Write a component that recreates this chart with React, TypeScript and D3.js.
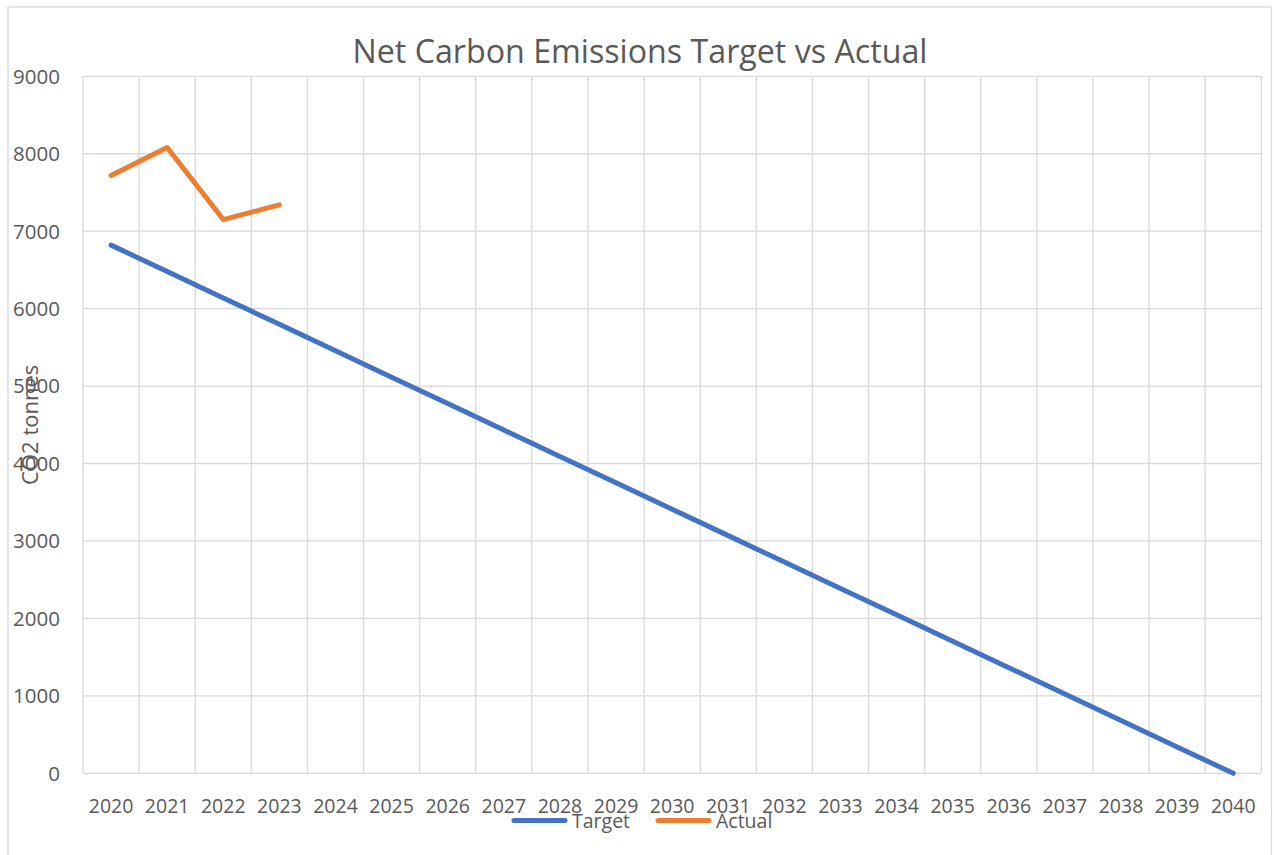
import React, { useEffect, useRef } from 'react';
import * as d3 from 'd3';

const years = [
  '2020', '2021', '2022', '2023', '2024', '2025', '2026', '2027', '2028', '2029', '2030',
  '2031', '2032', '2033', '2034', '2035', '2036', '2037', '2038', '2039', '2040',
];
const target = [
  6820, 6479, 6138, 5797, 5456, 5115, 4774, 4433, 4092, 3751, 3410,
  3069, 2728, 2387, 2046, 1705, 1364, 1023, 682, 341, 0,
];
const actual = [7720, 8080, 7150, 7340];
const yTicks = [0, 1000, 2000, 3000, 4000, 5000, 6000, 7000, 8000, 9000];

const WIDTH = 1274;
const HEIGHT = 855;
const FONT = '"Open Sans", "Noto Sans", sans-serif';
const TEXT = '#595959';
const GRID = '#d9d9d9';
const BLUE = '#4472c4';
const ORANGE = '#ed7d31';

function LineChart() {
  const ref = useRef<SVGSVGElement>(null);

  useEffect(() => {
    if (!ref.current) return;
    const marginLeft = 83;
    const marginRight = 12.7;
    const marginTop = 76.3;
    const marginBottom = 81.7;

    const svg = d3.select(ref.current);
    svg.selectAll('*').remove();

    // chart frame
    svg
      .append('rect')
      .attr('x', 8)
      .attr('y', 7)
      .attr('width', 1263.5)
      .attr('height', 860)
      .attr('fill', '#fff')
      .attr('stroke', GRID)
      .attr('stroke-width', 1.3);

    const x = d3
      .scaleBand()
      .domain(years)
      .range([marginLeft, WIDTH - marginRight])
      .padding(0);

    const y = d3
      .scaleLinear()
      .domain([0, 9000])
      .range([HEIGHT - marginBottom, marginTop]);

    const cx = (d: string) => (x(d) as number) + x.bandwidth() / 2;

    // horizontal gridlines
    svg
      .append('g')
      .selectAll('line')
      .data(yTicks)
      .join('line')
      .attr('x1', marginLeft)
      .attr('x2', WIDTH - marginRight)
      .attr('y1', (d) => y(d))
      .attr('y2', (d) => y(d))
      .attr('stroke', GRID)
      .attr('stroke-width', 1.3);

    // vertical gridlines at category boundaries
    const bounds = years.map((d) => x(d) as number).concat([WIDTH - marginRight]);
    svg
      .append('g')
      .selectAll('line')
      .data(bounds)
      .join('line')
      .attr('x1', (d) => d)
      .attr('x2', (d) => d)
      .attr('y1', y(0))
      .attr('y2', y(9000))
      .attr('stroke', GRID)
      .attr('stroke-width', 1.3);

    // y labels
    svg
      .append('g')
      .selectAll('text')
      .data(yTicks)
      .join('text')
      .attr('x', 60)
      .attr('y', (d) => y(d))
      .attr('dy', '0.36em')
      .attr('text-anchor', 'end')
      .attr('font-family', FONT)
      .attr('font-size', 20.5)
      .attr('fill', TEXT)
      .text((d) => d);

    // x labels
    svg
      .append('g')
      .selectAll('text')
      .data(years)
      .join('text')
      .attr('x', (d) => cx(d))
      .attr('y', 813)
      .attr('text-anchor', 'middle')
      .attr('font-family', FONT)
      .attr('font-size', 19.5)
      .attr('fill', TEXT)
      .text((d) => d);

    const line = d3
      .line<number>()
      .x((d, i) => cx(years[i]))
      .y((d) => y(d));

    svg
      .append('path')
      .datum(target)
      .attr('d', line)
      .attr('fill', 'none')
      .attr('stroke', BLUE)
      .attr('stroke-width', 5)
      .attr('stroke-linecap', 'round')
      .attr('stroke-linejoin', 'round');

    svg
      .append('path')
      .datum(actual)
      .attr('d', line)
      .attr('fill', 'none')
      .attr('stroke', ORANGE)
      .attr('stroke-width', 5)
      .attr('stroke-linecap', 'round')
      .attr('stroke-linejoin', 'round');

    // title
    svg
      .append('text')
      .attr('x', 640)
      .attr('y', 63)
      .attr('text-anchor', 'middle')
      .attr('font-family', FONT)
      .attr('font-size', 32.2)
      .attr('fill', TEXT)
      .text('Net Carbon Emissions Target vs Actual');

    // y axis title
    svg
      .append('text')
      .attr('transform', `translate(38,${(y(0) + y(9000)) / 2}) rotate(-90)`)
      .attr('text-anchor', 'middle')
      .attr('font-family', FONT)
      .attr('font-size', 22)
      .attr('fill', TEXT)
      .text('CO2 tonnes');

    // legend
    const legend = [
      { name: 'Target', color: BLUE, x: 514 },
      { name: 'Actual', color: ORANGE, x: 658 },
    ];
    const lg = svg.append('g').selectAll('g').data(legend).join('g');
    lg.append('line')
      .attr('x1', (d) => d.x)
      .attr('x2', (d) => d.x + 51)
      .attr('y1', 820.5)
      .attr('y2', 820.5)
      .attr('stroke', (d) => d.color)
      .attr('stroke-width', 5)
      .attr('stroke-linecap', 'round');
    lg.append('text')
      .attr('x', (d) => d.x + 58)
      .attr('y', 828)
      .attr('font-family', FONT)
      .attr('font-size', 19.5)
      .attr('fill', TEXT)
      .text((d) => d.name);
  }, []);

  return (
    <svg
      ref={ref}
      width={WIDTH}
      height={HEIGHT}
      style={{ position: 'absolute', left: 0, top: 0 }}
    />
  );
}

export default function App() {
  return <LineChart />;
}
